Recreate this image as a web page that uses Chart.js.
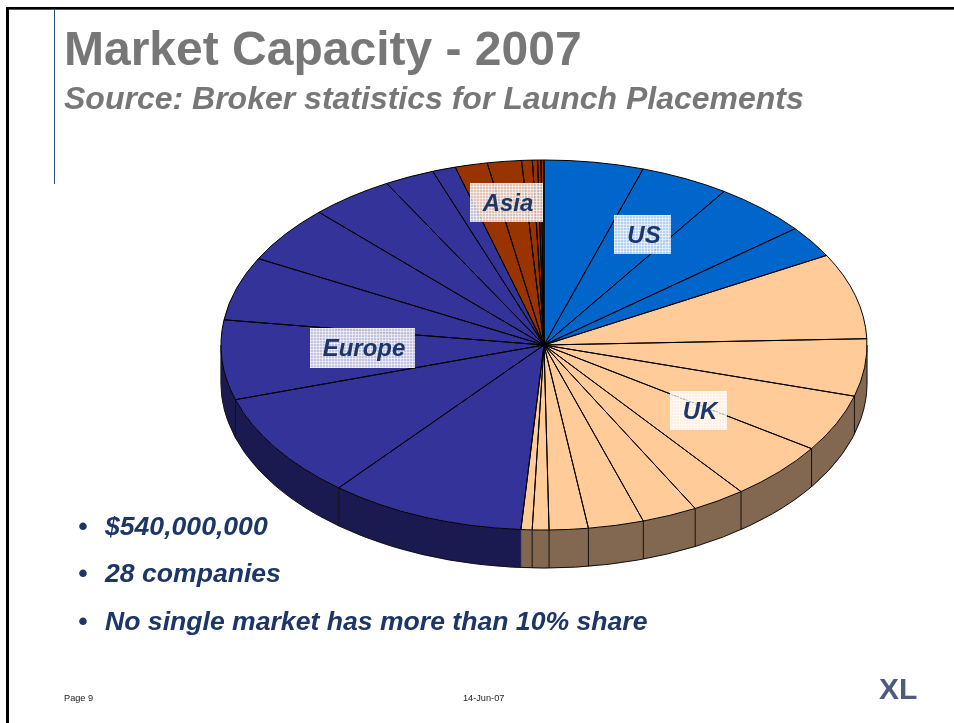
<!DOCTYPE html>
<html><head><meta charset="utf-8">
<style>
html,body{margin:0;padding:0;background:#fff;width:954px;height:723px;overflow:hidden;font-family:"Liberation Sans",Arial,sans-serif}
#frameT{position:absolute;left:6px;top:7px;width:948px;height:2px;background:#000;border-bottom:1px solid #555}
#frameL{position:absolute;left:6px;top:7px;width:3px;height:716px;background:#000}
#rule{position:absolute;left:54px;top:9px;width:1px;height:175px;background:#2f4a8c}
#wrap{position:absolute;left:0;top:0;width:954px;height:723px}
.t{position:absolute;white-space:nowrap}
#title{left:64px;top:22px;font:bold 48px/54px "Liberation Sans";color:#777}
#sub{left:64px;top:79px;font:italic bold 32px/38px "Liberation Sans";color:#777}
.b{font:italic bold 26.6px/30px "Liberation Sans";color:#1c3668}
.f{font:9.2px/10px "Liberation Sans";color:#222}
.lab{position:absolute;font:italic bold 24px/40px "Liberation Sans";color:#1c3668;text-align:center;text-indent:3px;
background-color:rgba(255,255,255,.7);
background-image:linear-gradient(rgba(255,255,255,.55) 1px,transparent 1px),linear-gradient(90deg,rgba(255,255,255,.55) 1px,transparent 1px);
background-size:3px 3px}
#logo{position:absolute;left:879px;top:676px;font:bold 30px/26px "Liberation Sans";color:#4e5a80}
</style></head><body>
<div id="wrap"><canvas id="c" width="954" height="723"></canvas></div>
<div id="frameT"></div><div id="frameL"></div><div id="rule"></div>
<div class="t" id="title">Market Capacity - 2007</div>
<div class="t" id="sub">Source: Broker statistics for Launch Placements</div>
<div class="lab" style="left:470px;top:183px;width:73px;height:39px">Asia</div>
<div class="lab" style="left:614px;top:215px;width:57px;height:39px">US</div>
<div class="lab" style="left:310px;top:328px;width:105px;height:40px">Europe</div>
<div class="lab" style="left:670px;top:391px;width:57px;height:39px">UK</div>
<div class="t b" style="left:78px;top:511px">•</div><div class="t b" style="left:105px;top:511px">$540,000,000</div>
<div class="t b" style="left:78px;top:558px">•</div><div class="t b" style="left:105px;top:558px">28 companies</div>
<div class="t b" style="left:78px;top:606px">•</div><div class="t b" style="left:105px;top:606px">No single market has more than 10% share</div>
<div class="t f" style="left:64px;top:693px">Page 9</div>
<div class="t f" style="left:463px;top:693px">14-Jun-07</div>
<div id="logo">XL</div>
<script src="https://cdn.jsdelivr.net/npm/chart.js@4/dist/chart.umd.min.js"></script>
<script>
// Market values, $M, read clockwise from 12 o'clock
const usValues = [26.8, 24, 25.7, 15];
const ukValues = [40.5, 27, 27, 27.5, 14.5, 15, 15, 10.5, 4.5, 3];
const europeValues = [53, 50, 37.5, 30, 27, 22.5, 13.5, 6.3];
const asiaValues = [8.7, 9.2, 2.9, 1.4, 0.9, 0.8];
const regions = ['US', 'UK', 'Europe', 'Asia'];
const regionColors = ['#0066CC', '#FFCC99', '#333399', '#993300'];
const sideColors = ['#003366', '#826850', '#1A1A50', '#4D1A00'];

const groups = [usValues, ukValues, europeValues, asiaValues];
const values = groups.flat();
const regionIdx = groups.flatMap((g, i) => g.map(() => i));
const labels = regionIdx.map((r, i) => regions[r] + ' ' + (i + 1));

const SQUASH = 185 / 323, DEPTH = 38;

const tilt = {
  id: 'tilt',
  beforeDatasetsDraw(chart) {
    const ctx = chart.ctx, arcs = chart.getDatasetMeta(0).data;
    const { x: cx, y: cy, outerRadius: R } = arcs[0];
    // extruded wall: only the front half (canvas angles 0..PI)
    const pt = a => [cx + R * Math.cos(a), cy + SQUASH * R * Math.sin(a)];
    arcs.forEach((arc, i) => {
      const a0 = Math.max(arc.startAngle, 0), a1 = Math.min(arc.endAngle, Math.PI);
      if (a1 <= a0) return;
      ctx.save();
      ctx.beginPath();
      ctx.ellipse(cx, cy, R, SQUASH * R, 0, a0, a1);
      ctx.ellipse(cx, cy + DEPTH, R, SQUASH * R, 0, a1, a0, true);
      ctx.closePath();
      ctx.fillStyle = sideColors[regionIdx[i]];
      ctx.fill();
      ctx.strokeStyle = sideColors[regionIdx[i]];
      ctx.lineWidth = 0.5;
      ctx.stroke();
      ctx.restore();
    });
    ctx.save();
    ctx.strokeStyle = '#111';
    ctx.lineWidth = 1;
    ctx.beginPath();
    ctx.ellipse(cx, cy + DEPTH, R, SQUASH * R, 0, 0, Math.PI);
    const [xr, yr] = pt(0), [xl, yl] = pt(Math.PI);
    ctx.moveTo(xr, yr); ctx.lineTo(xr, yr + DEPTH);
    ctx.moveTo(xl, yl); ctx.lineTo(xl, yl + DEPTH);
    arcs.forEach((arc, i) => {
      const a = arc.endAngle, next = arcs[i + 1];
      if (a > 0 && a < Math.PI && next && regionIdx[i] === regionIdx[i + 1]) {
        const [x, y] = pt(a);
        ctx.moveTo(x, y); ctx.lineTo(x, y + DEPTH);
      }
    });
    ctx.stroke();
    ctx.restore();
    // squash the top face
    ctx.save();
    ctx.translate(cx, cy); ctx.scale(1, SQUASH); ctx.translate(-cx, -cy);
  },
  afterDatasetsDraw(chart) {
    const ctx = chart.ctx, arcs = chart.getDatasetMeta(0).data;
    ctx.restore();
    const { x: cx, y: cy, outerRadius: R } = arcs[0];
    ctx.save();
    ctx.strokeStyle = '#000';
    ctx.lineWidth = 1;
    ctx.lineJoin = 'round';
    arcs.forEach(arc => {
      ctx.beginPath();
      ctx.moveTo(cx, cy);
      ctx.ellipse(cx, cy, R, SQUASH * R, 0, arc.startAngle, arc.endAngle);
      ctx.closePath();
      ctx.stroke();
    });
    ctx.restore();
  }
};

new Chart(document.getElementById('c'), {
  type: 'pie',
  data: { labels, datasets: [{
    data: values,
    backgroundColor: regionIdx.map(r => regionColors[r]),
    borderWidth: 0
  }] },
  options: {
    responsive: false, animation: false,
    layout: { padding: { left: 221, right: 87, top: 22, bottom: 55 } },
    plugins: { legend: { display: false }, tooltip: { enabled: false }, title: { display: false } }
  },
  plugins: [tilt]
});
</script>
</body></html>
